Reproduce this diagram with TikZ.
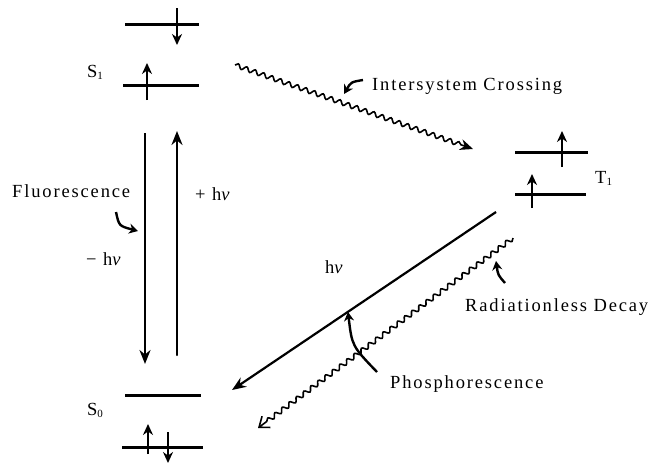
\documentclass[tikz,border=0pt]{standalone}
\usepackage{fontspec}
\setmainfont{Liberation Serif}[LetterSpace=10]
\usetikzlibrary{arrows.meta,decorations.pathmorphing}
\begin{document}
\begin{tikzpicture}[x=1pt,y=-1pt,
  level/.style={line width=3pt},
  spin/.style={line width=2.4pt,-{Stealth[length=11pt,width=10pt]}},
  trans/.style={line width=2.2pt,-{Stealth[length=14pt,width=11pt]}},
  wavy/.style={line width=1.6pt, decorate, decoration={snake,amplitude=2.2pt,segment length=9pt,post length=10pt}},
  lbl/.style={font=\fontsize{18.5}{21}\selectfont, anchor=base west, inner sep=0pt},
  pointer/.style={line width=2.4pt,-{Stealth[length=9pt,width=10pt]}}
]
\useasboundingbox (0,0) rectangle (652,466);
% level endpoints
\coordinate (s1aL) at (125,24);  \coordinate (s1aR) at (199,24);
\coordinate (s1bL) at (123,85);  \coordinate (s1bR) at (199,85);
\coordinate (s0aL) at (125,395); \coordinate (s0aR) at (201,395);
\coordinate (s0bL) at (122,447); \coordinate (s0bR) at (203,447);
\coordinate (t1aL) at (515,152); \coordinate (t1aR) at (588,152);
\coordinate (t1bL) at (515,194); \coordinate (t1bR) at (586,194);
\draw[level] (s1aL) -- (s1aR);
\draw[level] (s1bL) -- (s1bR);
\draw[level] (s0aL) -- (s0aR);
\draw[level] (s0bL) -- (s0bR);
\draw[level] (t1aL) -- (t1aR);
\draw[level] (t1bL) -- (t1bR);
% spins
\coordinate (sp1a) at (177,8);   \coordinate (sp1b) at (177,45);
\coordinate (sp2a) at (147,100); \coordinate (sp2b) at (147,63);
\coordinate (sp3a) at (148,454); \coordinate (sp3b) at (148,424);
\coordinate (sp4a) at (168,432); \coordinate (sp4b) at (168,463);
\coordinate (sp5a) at (562,167); \coordinate (sp5b) at (562,131);
\coordinate (sp6a) at (532,208); \coordinate (sp6b) at (532,174);
\draw[spin] (sp1a) -- (sp1b);
\draw[spin] (sp2a) -- (sp2b);
\draw[spin] (sp3a) -- (sp3b);
\draw[spin] (sp4a) -- (sp4b);
\draw[spin] (sp5a) -- (sp5b);
\draw[spin] (sp6a) -- (sp6b);
% transitions
\coordinate (flA) at (145,133); \coordinate (flB) at (145,364);
\coordinate (exA) at (177,355); \coordinate (exB) at (177,131);
\draw[trans] (flA) -- (flB);
\draw[trans,line cap=round] (exA) -- (exB);
\coordinate (isA) at (235,65); \coordinate (isB) at (473,149);
\draw[wavy,-{Stealth[length=13pt,width=11pt]}] (isA) -- (isB);
\coordinate (phA) at (496,212); \coordinate (phB) at (232,390);
\draw[trans] (phA) -- (phB);
\coordinate (rdA) at (513,238); \coordinate (rdB) at (258,428);
\draw[wavy,-{Straight Barb[length=9pt,width=14pt]}] (rdA) -- (rdB);
% pointers
\coordinate (pfA) at (116,212); \coordinate (pfB) at (138,231);
\draw[pointer] (pfA) .. controls (119,226) .. (pfB);
\coordinate (piA) at (363,80); \coordinate (piB) at (344,94);
\draw[pointer] (piA) .. controls (351,82) .. (piB);
\coordinate (ppA) at (377,372); \coordinate (ppB) at (348,312);
\draw[pointer] (ppA) .. controls (352,346) .. (ppB);
\coordinate (prA) at (505,283); \coordinate (prB) at (496,261);
\draw[pointer] (prA) .. controls (498,275) .. (prB);
% labels
\node[lbl] (lS1) at (87,77) {S\raisebox{-0.35ex}{\fontsize{11}{12}\selectfont 1}};
\node[lbl] (lS0) at (87,415) {S\raisebox{-0.35ex}{\fontsize{11}{12}\selectfont 0}};
\node[lbl] (lT1) at (595,183) {T\raisebox{-0.35ex}{\fontsize{11}{12}\selectfont 1}};
\node[lbl] (lfl) at (12,197) {Fluorescence};
\node[lbl] (lmh) at (86,265) {− h\textit{ν}};
\node[lbl] (lph) at (195,200) {+ h\textit{ν}};
\node[lbl] (lhv) at (325,273) {h\textit{ν}};
\node[lbl] (lis) at (372,90) {Intersystem Crossing};
\node[lbl] (lrd) at (465,311) {Radiationless Decay};
\node[lbl] (lpo) at (390,388) {Phosphorescence};
\end{tikzpicture}
\end{document}
